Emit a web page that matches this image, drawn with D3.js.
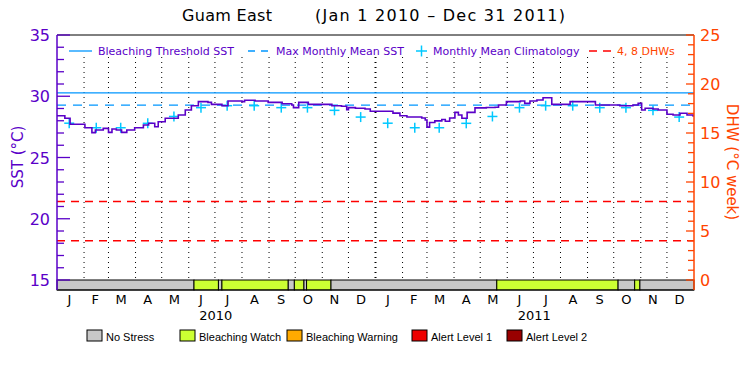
<!DOCTYPE html>
<html>
<head>
<meta charset="utf-8">
<script src="https://cdn.jsdelivr.net/npm/d3@7"></script>
<style>
  body { margin: 0; background: #fff; }
  text { font-family: "DejaVu Sans", sans-serif; }
  .legend-label { font-family: "Liberation Sans", sans-serif; }
</style>
</head>
<body>
<svg id="chart" width="750" height="375"></svg>
<script>
// ---- data ----
var sstSeries = [
  ["2010-01-01",28.41],["2010-01-10",28.2],["2010-01-16",27.71],["2010-01-27",27.71],
  ["2010-02-02",27.43],["2010-02-10",27.03],["2010-02-14",27.24],["2010-02-23",27.38],
  ["2010-03-01",27.05],["2010-03-05",27.33],["2010-03-10",27.24],["2010-03-16",27.05],
  ["2010-03-22",27.24],["2010-03-31",27.43],["2010-04-10",27.65],["2010-04-16",27.79],
  ["2010-04-23",27.51],["2010-04-27",27.92],["2010-05-05",28.2],["2010-05-14",28.2],
  ["2010-05-20",28.47],["2010-05-28",28.88],["2010-06-04",29.23],["2010-06-12",29.56],
  ["2010-06-23",29.5],["2010-06-27",29.34],["2010-07-05",29.34],["2010-07-09",29.23],
  ["2010-07-16",29.61],["2010-08-01",29.56],["2010-08-04",29.67],["2010-08-16",29.61],
  ["2010-08-31",29.5],["2010-09-16",29.39],["2010-09-27",29.29],["2010-09-29",29.07],
  ["2010-10-05",29.5],["2010-10-16",29.34],["2010-10-31",29.34],["2010-11-12",29.23],
  ["2010-11-23",29.18],["2010-11-29",28.9],["2010-12-01",29.07],["2010-12-09",29.02],
  ["2010-12-20",28.96],["2010-12-26",28.77],["2011-01-06",28.77],["2011-01-21",28.62],
  ["2011-01-29",28.41],["2011-02-06",28.31],["2011-02-23",28.22],["2011-02-27",28.06],
  ["2011-03-01",27.48],["2011-03-04",27.86],["2011-03-10",27.99],["2011-03-18",28.1],
  ["2011-03-22",27.96],["2011-03-27",28.22],["2011-04-02",28.68],["2011-04-06",28.47],
  ["2011-04-10",28.2],["2011-04-16",28.68],["2011-04-25",29.05],["2011-05-08",29.08],
  ["2011-05-18",29.1],["2011-05-22",29.29],["2011-05-31",29.56],["2011-06-16",29.61],
  ["2011-06-21",29.42],["2011-06-27",29.61],["2011-07-05",29.69],["2011-07-12",29.88],
  ["2011-07-18",29.88],["2011-07-22",29.34],["2011-07-31",29.34],["2011-08-12",29.56],
  ["2011-09-06",29.56],["2011-09-10",29.29],["2011-10-01",29.29],["2011-10-08",29.23],
  ["2011-10-23",29.29],["2011-10-29",29.42],["2011-11-02",28.88],["2011-11-06",29.02],
  ["2011-11-15",28.96],["2011-11-21",28.88],["2011-12-01",28.53],["2011-12-08",28.47],
  ["2011-12-16",28.61],["2011-12-24",28.47],["2011-12-31",28.33]
];
var years = [2010, 2011];
var monthLetters = ["J","F","M","A","M","J","J","A","S","O","N","D"];
var climatology = [27.8, 27.43, 27.43, 27.79, 28.35, 29.07, 29.23, 29.23, 29.07, 29.07, 28.85, 28.3];
var maxMonthlyMean = 29.27;
var bleachThreshold = 30.27;
var dhwLevels = [4, 8];
// stress level: 0 no stress, 1 watch, 2 warning, 3 alert 1, 4 alert 2
var stressPeriods = [
  ["2010-01-01","2010-06-07",0],["2010-06-07","2010-07-05",1],["2010-07-05","2010-07-09",0],
  ["2010-07-09","2010-09-23",1],["2010-09-23","2010-09-30",0],["2010-09-30","2010-10-11",1],
  ["2010-10-11","2010-10-14",0],["2010-10-14","2010-11-11",1],["2010-11-11","2011-05-20",0],
  ["2011-05-20","2011-10-06",1],["2011-10-06","2011-10-25",0],["2011-10-25","2011-10-31",1],
  ["2011-10-31","2012-01-01",0]
];
var stressNames = ["No Stress","Bleaching Watch","Bleaching Warning","Alert Level 1","Alert Level 2"];
var stressColors = ["#c8c8c8","#ccff33","#ffaa00","#ee0000","#990000"];

// ---- layout ----
var purple = "#5a00c8", orange = "#ff4400", blue = "#0096ff", cyan = "#00c8ff", red = "#ff0000";
var plotLeft = 57, plotRight = 694, plotTop = 35, plotBottom = 280, bandBottom = 290;
var svg = d3.select("#chart");
var parse = d3.utcParse("%Y-%m-%d");

var x = d3.scaleUtc()
    .domain([Date.UTC(2010,0,1), Date.UTC(2012,0,1)])
    .range([plotLeft, plotRight]);
var ySst = d3.scaleLinear().domain([15, 35]).range([plotBottom, plotTop]);
var yDhw = d3.scaleLinear().domain([0, 25]).range([plotBottom, plotTop]);

// title
svg.append("text")
    .attr("x", 182).attr("y", 21)
    .attr("font-size", 16)
    .attr("textLength", 90).attr("lengthAdjust", "spacing")
    .text("Guam East");
svg.append("text")
    .attr("x", 315).attr("y", 21)
    .attr("font-size", 16)
    .attr("textLength", 250).attr("lengthAdjust", "spacing")
    .text("(Jan 1 2010 \u2013 Dec 31 2011)");

// month gridlines
var monthStarts = d3.utcMonth.range(Date.UTC(2010,1,1), Date.UTC(2012,0,1));
svg.append("g").selectAll("line")
    .data(monthStarts)
    .enter()
    .append("line")
    .attr("x1", function(d) { return x(d); })
    .attr("x2", function(d) { return x(d); })
    .attr("y1", plotTop + 22)
    .attr("y2", plotBottom)
    .attr("stroke", "#000")
    .attr("stroke-width", function(d) { return d.getUTCMonth() === 0 ? 2 : 1; })
    .attr("stroke-dasharray", "1,4");

// DHW reference lines
svg.append("g").selectAll("line")
    .data(dhwLevels)
    .enter()
    .append("line")
    .attr("x1", plotLeft).attr("x2", plotRight)
    .attr("y1", function(d) { return yDhw(d); })
    .attr("y2", function(d) { return yDhw(d); })
    .attr("stroke", red)
    .attr("stroke-width", 1.5)
    .attr("stroke-dasharray", "8,6");

// MMM and bleaching threshold
svg.append("line")
    .attr("x1", plotLeft).attr("x2", plotRight)
    .attr("y1", ySst(maxMonthlyMean)).attr("y2", ySst(maxMonthlyMean))
    .attr("stroke", blue).attr("stroke-width", 1.3)
    .attr("stroke-dasharray", "9,7");
svg.append("line")
    .attr("x1", plotLeft).attr("x2", plotRight)
    .attr("y1", ySst(bleachThreshold)).attr("y2", ySst(bleachThreshold))
    .attr("stroke", blue).attr("stroke-width", 1.3);

// climatology crosses (mid month)
var climPoints = [];
years.forEach(function(yr) {
  climatology.forEach(function(v, m) {
    climPoints.push({ date: Date.UTC(yr, m, 15), value: v });
  });
});
var cross = svg.append("g").selectAll("g")
    .data(climPoints)
    .enter()
    .append("g")
    .attr("transform", function(d) { return "translate(" + x(d.date) + "," + ySst(d.value) + ")"; });
cross.append("line").attr("x1", -5).attr("x2", 5).attr("y1", 0).attr("y2", 0)
    .attr("stroke", cyan).attr("stroke-width", 1.5);
cross.append("line").attr("x1", 0).attr("x2", 0).attr("y1", -5).attr("y2", 5)
    .attr("stroke", cyan).attr("stroke-width", 1.5);

// SST line
var sstLine = d3.line()
    .x(function(d) { return x(parse(d[0])); })
    .y(function(d) { return ySst(d[1]); })
    .curve(d3.curveStepAfter);
svg.append("path")
    .datum(sstSeries)
    .attr("d", sstLine)
    .attr("fill", "none")
    .attr("stroke", purple)
    .attr("stroke-width", 1.6);

// stress band
svg.append("g").selectAll("rect")
    .data(stressPeriods)
    .enter()
    .append("rect")
    .attr("x", function(d) { return x(parse(d[0])); })
    .attr("width", function(d) { return x(parse(d[1])) - x(parse(d[0])); })
    .attr("y", plotBottom)
    .attr("height", bandBottom - plotBottom)
    .attr("fill", function(d) { return stressColors[d[2]]; })
    .attr("stroke", "#000")
    .attr("stroke-width", 1);

// frame
svg.append("line").attr("x1", plotLeft).attr("x2", plotRight).attr("y1", plotTop).attr("y2", plotTop)
    .attr("stroke", "#000");
svg.append("line").attr("x1", plotLeft).attr("x2", plotRight).attr("y1", bandBottom).attr("y2", bandBottom)
    .attr("stroke", "#000");

// left axis
var leftAxis = svg.append("g").attr("transform", "translate(" + plotLeft + ",0)");
leftAxis.append("line").attr("y1", plotTop).attr("y2", bandBottom).attr("stroke", purple).attr("stroke-width", 1.5);
leftAxis.selectAll("line.tick")
    .data(d3.range(15, 36, 1))
    .enter()
    .append("line")
    .attr("class", "tick")
    .attr("x1", 0)
    .attr("x2", function(d) { return d % 5 === 0 ? 13 : 7; })
    .attr("y1", function(d) { return ySst(d); })
    .attr("y2", function(d) { return ySst(d); })
    .attr("stroke", purple).attr("stroke-width", 1.3);
leftAxis.selectAll("text")
    .data(d3.range(15, 36, 5))
    .enter()
    .append("text")
    .attr("x", -7)
    .attr("y", function(d) { return ySst(d) + 6; })
    .attr("text-anchor", "end")
    .attr("font-size", 16)
    .attr("fill", purple)
    .text(function(d) { return d; });
svg.append("text")
    .attr("transform", "translate(23,157) rotate(-90)")
    .attr("text-anchor", "middle")
    .attr("font-size", 15)
    .attr("fill", purple)
    .text("SST (\u00b0C)");

// right axis
var rightAxis = svg.append("g").attr("transform", "translate(" + plotRight + ",0)");
rightAxis.append("line").attr("y1", plotTop).attr("y2", bandBottom).attr("stroke", orange).attr("stroke-width", 1.5);
rightAxis.selectAll("line.tick")
    .data(d3.range(0, 26, 1))
    .enter()
    .append("line")
    .attr("class", "tick")
    .attr("x1", 0)
    .attr("x2", function(d) { return d % 5 === 0 ? -8 : -6; })
    .attr("y1", function(d) { return yDhw(d); })
    .attr("y2", function(d) { return yDhw(d); })
    .attr("stroke", orange).attr("stroke-width", 1.3);
rightAxis.selectAll("text")
    .data(d3.range(0, 26, 5))
    .enter()
    .append("text")
    .attr("x", 6)
    .attr("y", function(d) { return yDhw(d) + 6; })
    .attr("font-size", 16)
    .attr("fill", orange)
    .text(function(d) { return d; });
svg.append("text")
    .attr("transform", "translate(727,162) rotate(90)")
    .attr("text-anchor", "middle")
    .attr("font-size", 15)
    .attr("fill", orange)
    .text("DHW (\u00b0C week)");

// month and year labels
var monthMids = [];
years.forEach(function(yr) {
  monthLetters.forEach(function(l, m) {
    monthMids.push({ label: l, date: new Date((Date.UTC(yr, m, 1) + Date.UTC(yr, m + 1, 1)) / 2) });
  });
});
svg.append("g").selectAll("text")
    .data(monthMids)
    .enter()
    .append("text")
    .attr("x", function(d) { return x(d.date) - 1; })
    .attr("y", 304)
    .attr("text-anchor", "middle")
    .attr("font-size", 13)
    .text(function(d) { return d.label; });
svg.append("g").selectAll("text")
    .data(years)
    .enter()
    .append("text")
    .attr("x", function(d) { return x(new Date(Date.UTC(d, 6, 2))); })
    .attr("y", 320)
    .attr("text-anchor", "middle")
    .attr("font-size", 13)
    .text(function(d) { return d; });

// top legend
var lg = svg.append("g").attr("font-size", 11);
lg.append("line").attr("x1", 69).attr("x2", 92).attr("y1", 51).attr("y2", 51).attr("stroke", blue).attr("stroke-width", 1.3);
lg.append("text").attr("x", 98).attr("y", 55).attr("fill", purple).text("Bleaching Threshold SST");
lg.append("line").attr("x1", 248).attr("x2", 269).attr("y1", 51).attr("y2", 51).attr("stroke", blue)
    .attr("stroke-width", 1.3).attr("stroke-dasharray", "7,6");
lg.append("text").attr("x", 276).attr("y", 55).attr("fill", purple).text("Max Monthly Mean SST");
lg.append("line").attr("x1", 416).attr("x2", 427).attr("y1", 51).attr("y2", 51).attr("stroke", cyan).attr("stroke-width", 1.5);
lg.append("line").attr("x1", 421.5).attr("x2", 421.5).attr("y1", 45.5).attr("y2", 56.5).attr("stroke", cyan).attr("stroke-width", 1.5);
lg.append("text").attr("x", 433).attr("y", 55).attr("fill", purple).text("Monthly Mean Climatology");
lg.append("line").attr("x1", 589).attr("x2", 611).attr("y1", 51).attr("y2", 51).attr("stroke", red)
    .attr("stroke-width", 1.5).attr("stroke-dasharray", "8,6");
lg.append("text").attr("x", 617).attr("y", 55).attr("fill", orange).text("4, 8 DHWs");

// bottom legend
var boxX = [87, 180, 287, 412, 507];
var leg = svg.append("g").selectAll("g")
    .data(stressNames)
    .enter()
    .append("g")
    .attr("transform", function(d, i) { return "translate(" + boxX[i] + ",330)"; });
leg.append("rect")
    .attr("width", 15).attr("height", 11)
    .attr("fill", function(d, i) { return stressColors[i]; })
    .attr("stroke", "#000");
leg.append("text")
    .attr("class", "legend-label")
    .attr("x", 19).attr("y", 10.5)
    .attr("font-size", 11)
    .text(function(d) { return d; });
</script>
</body>
</html>
